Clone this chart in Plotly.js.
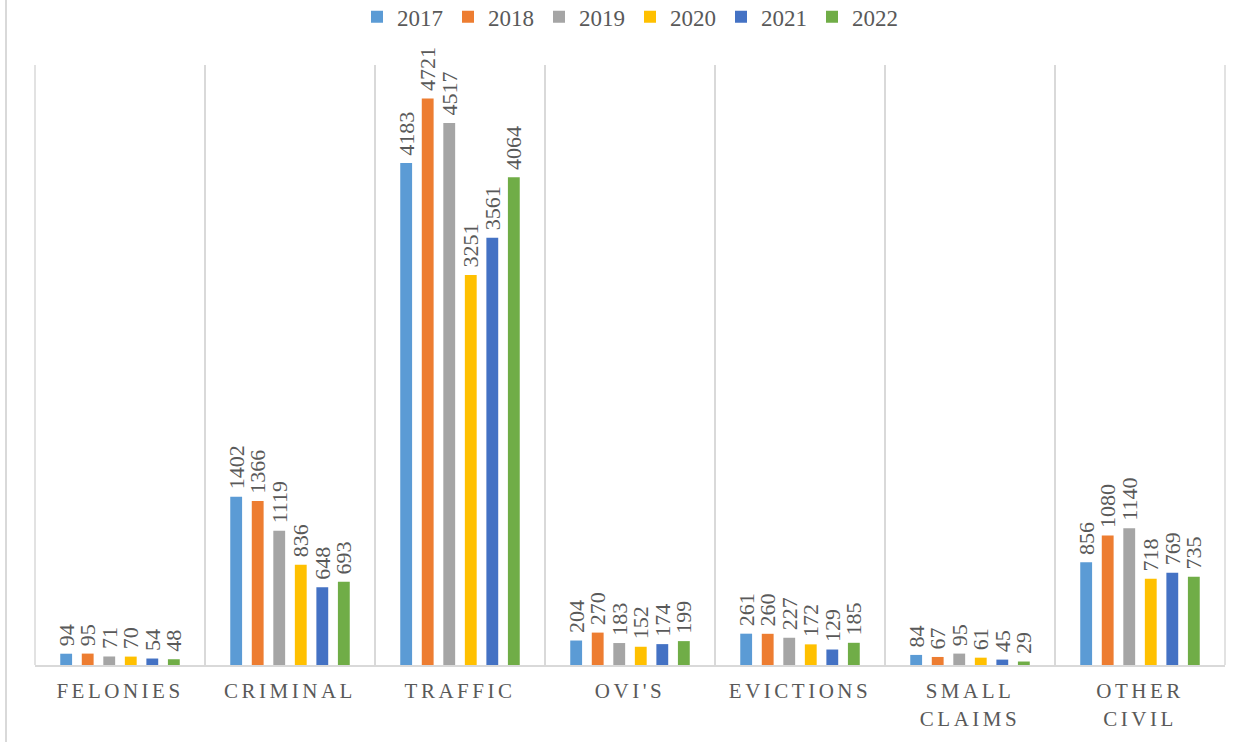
<!DOCTYPE html>
<html>
<head>
<meta charset="utf-8">
<script src="https://cdn.plot.ly/plotly-3.0.1.min.js"></script>
<style>
  html, body { margin: 0; padding: 0; background: #fff; }
  #wrap { position: relative; width: 1251px; height: 742px; }
  #edge { position: absolute; left: 5px; top: 0; width: 2px; height: 742px; background: #d9d9d9; }
  #chart { position: absolute; left: 0; top: 0; width: 1251px; height: 742px; }
  .xtick text { letter-spacing: 3.5px; }
</style>
</head>
<body>
<div id="wrap"><div id="chart"></div><div id="edge"></div></div>
<script>
const categories = ["FELONIES", "CRIMINAL", "TRAFFIC", "OVI'S", "EVICTIONS", "SMALL<br>CLAIMS", "OTHER<br>CIVIL"];
const seriesNames = ["2017", "2018", "2019", "2020", "2021", "2022"];
const v2017 = [94, 1402, 4183, 204, 261, 84, 856];
const v2018 = [95, 1366, 4721, 270, 260, 67, 1080];
const v2019 = [71, 1119, 4517, 183, 227, 95, 1140];
const v2020 = [70, 836, 3251, 152, 172, 61, 718];
const v2021 = [54, 648, 3561, 174, 129, 45, 769];
const v2022 = [48, 693, 4064, 199, 185, 29, 735];
const colors = ["#5B9BD5", "#ED7D31", "#A5A5A5", "#FFC000", "#4472C4", "#70AD47"];

const values = [v2017, v2018, v2019, v2020, v2021, v2022];
const font = "Liberation Serif, Times New Roman, serif";
const traces = values.map((vals, i) => ({
  type: "bar",
  name: seriesNames[i],
  x: categories,
  y: vals,
  marker: { color: colors[i] },
  texttemplate: "\u2009%{y}",
  textposition: "outside",
  textangle: -90,
  constraintext: "none",
  cliponaxis: false,
  textfont: { family: font, size: 22, color: "#595959" },
  hoverinfo: "x+y+name"
}));

const layout = {
  width: 1251, height: 742,
  margin: { l: 35, r: 26, t: 65, b: 77, autoexpand: false },
  paper_bgcolor: "rgba(0,0,0,0)",
  plot_bgcolor: "rgba(0,0,0,0)",
  barmode: "group",
  bargap: 0.24,
  bargroupgap: 0.45,
  showlegend: true,
  legend: {
    orientation: "h", x: 0.5, xanchor: "center", y: 1.116, yanchor: "top",
    font: { family: font, size: 23, color: "#595959" },
    itemwidth: 30, tracegroupgap: 0
  },
  xaxis: {
    type: "category",
    tickson: "boundaries",
    showgrid: true, gridcolor: "#d9d9d9", gridwidth: 1.5,
    showline: true, linecolor: "#d9d9d9", linewidth: 2,
    ticks: "", ticklen: 0, ticklabelstandoff: 6,
    tickfont: { family: font, size: 21, color: "#595959" },
    fixedrange: true
  },
  yaxis: {
    range: [0, 5000],
    showgrid: false, zeroline: false, showline: false,
    showticklabels: false, ticks: "", fixedrange: true
  },
  shapes: [
    { type: "line", xref: "paper", yref: "paper", x0: 0, x1: 0, y0: 0, y1: 1, line: { color: "#d9d9d9", width: 1.5 } },
    { type: "line", xref: "paper", yref: "paper", x0: 1, x1: 1, y0: 0, y1: 1, line: { color: "#d9d9d9", width: 1.5 } }
  ]
};

Plotly.newPlot("chart", traces, layout, { displayModeBar: false });
</script>
</body>
</html>
